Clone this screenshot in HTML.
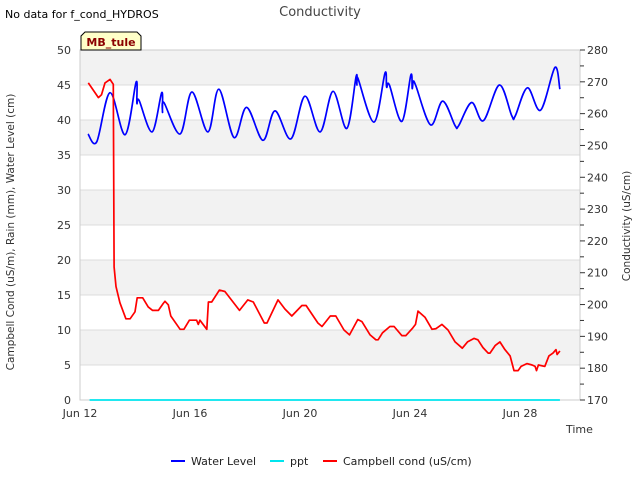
<!DOCTYPE html>
<html><head><meta charset="utf-8"><style>
body{margin:0;background:#fff;font-family:"Liberation Sans","DejaVu Sans",sans-serif;}
svg text{font-family:"DejaVu Sans","Liberation Sans",sans-serif;}
</style></head><body>
<svg id="c" width="640" height="480" xmlns="http://www.w3.org/2000/svg">
<text x="5" y="18" font-size="11" fill="#000">No data for f_cond_HYDROS</text>
<text x="320" y="16" font-size="13" fill="#444" text-anchor="middle">Conductivity</text>
<g id="bands"></g>
<g id="grid"></g>
<g id="axes"></g>
<g id="series"></g>
<g>
<path d="M81,50 L81,36 L85,32 L137,32 L141,36 L141,50 Z" fill="#ffffc8" stroke="#000" stroke-width="1"/>
<text x="111" y="46" font-size="11" font-weight="bold" fill="#8b0000" text-anchor="middle">MB_tule</text>
</g>
<text x="14" y="232" font-size="10.5" fill="#333" text-anchor="middle" transform="rotate(-90 14 232)">Campbell Cond (uS/m), Rain (mm), Water Level (cm)</text>
<text x="630" y="226" font-size="10.5" fill="#333" text-anchor="middle" transform="rotate(-90 630 226)">Conductivity (uS/cm)</text>
<text x="566" y="433" font-size="11" fill="#333">Time</text>
<g>
<g><line x1="171" y1="461" x2="185" y2="461" stroke="#0000ff" stroke-width="2"/><text x="191" y="465" font-size="11" fill="#222">Water Level</text></g>
<g><line x1="270" y1="461" x2="284" y2="461" stroke="#00e5ee" stroke-width="2"/><text x="290" y="465" font-size="11" fill="#222">ppt</text></g>
<g><line x1="323" y1="461" x2="337" y2="461" stroke="#ff0000" stroke-width="2"/><text x="343" y="465" font-size="11" fill="#222">Campbell cond (uS/cm)</text></g>
</g>
</svg>
<script>
const xTickLabels=["Jun 12","Jun 16","Jun 20","Jun 24","Jun 28"];
const xTickDays=[0,4,8,12,16];
const leftTicks=[0,5,10,15,20,25,30,35,40,45,50];
const rightTicks=[170,180,190,200,210,220,230,240,250,260,270,280];
const waterDays=[0.29,0.61,1.09,1.64,2.04,2.07,2.15,2.62,2.97,3.0,3.05,3.64,4.07,4.65,5.05,5.6,6.06,6.65,7.09,7.67,8.18,8.73,9.2,9.7,10.04,10.07,10.1,10.69,11.09,11.15,11.25,11.7,12.03,12.08,12.12,12.22,12.75,13.19,13.64,13.77,14.24,14.67,15.25,15.7,15.83,16.27,16.75,17.27,17.45];
const waterVals=[38.0,36.9,43.9,37.9,45.4,42.4,42.8,38.3,43.9,41.1,42.5,38.0,44.0,38.3,44.4,37.5,41.8,37.1,41.3,37.3,43.4,38.3,44.1,38.8,46.2,45.0,46.0,39.7,46.7,44.7,45.0,39.8,46.4,44.5,45.5,44.8,39.3,42.7,39.2,39.2,42.5,39.9,45.0,40.6,40.6,44.6,41.4,47.5,44.4];
const condDays=[0.3,0.67,0.78,0.91,1.09,1.21,1.24,1.31,1.45,1.67,1.82,2.0,2.08,2.28,2.48,2.64,2.85,3.03,3.09,3.21,3.3,3.64,3.78,3.98,4.24,4.3,4.36,4.61,4.67,4.79,5.07,5.27,5.8,6.1,6.3,6.7,6.8,7.2,7.45,7.7,8.07,8.22,8.65,8.8,9.1,9.3,9.6,9.8,10.1,10.25,10.55,10.76,10.84,11.0,11.27,11.42,11.7,11.85,12.1,12.2,12.29,12.55,12.8,12.95,13.16,13.38,13.64,13.9,14.09,14.33,14.47,14.65,14.84,14.91,15.1,15.27,15.45,15.64,15.78,15.93,16.04,16.25,16.44,16.55,16.6,16.67,16.9,17.05,17.2,17.31,17.35,17.45];
const condVals=[45.3,43.2,43.6,45.3,45.8,45.1,19.0,16.2,13.9,11.6,11.6,12.6,14.6,14.6,13.3,12.8,12.8,13.8,14.1,13.6,12.0,10.1,10.1,11.4,11.4,10.8,11.4,10.1,14.0,14.0,15.7,15.5,12.8,14.3,14.0,11.0,11.0,14.3,13.0,12.0,13.5,13.5,11.0,10.5,12.0,12.0,10.0,9.3,11.5,11.2,9.3,8.6,8.6,9.6,10.5,10.5,9.2,9.2,10.3,10.8,12.7,11.8,10.1,10.2,10.8,10.0,8.3,7.4,8.3,8.8,8.6,7.5,6.7,6.7,7.8,8.3,7.2,6.3,4.2,4.2,4.8,5.2,5.0,4.8,4.2,5.0,4.8,6.3,6.7,7.2,6.5,7.0];
const pptDays=[0.35,17.45];
const pptVals=[0,0];
const NS="http://www.w3.org/2000/svg";
const X0=80,X1=580,Y0=400,Y1=50;
const xs=d=>X0+d*27.5;
const yl=v=>Y0-(v/50)*(Y0-Y1);
const yr=v=>Y0-((v-170)/110)*(Y0-Y1);
function mk(tag,attrs,parent){const e=document.createElementNS(NS,tag);for(const k in attrs)e.setAttribute(k,attrs[k]);document.getElementById(parent).appendChild(e);return e;}
for(let i=0;i<leftTicks.length-1;i++){
  const a=leftTicks[i],b=leftTicks[i+1];
  const r=mk('rect',{x:X0,y:yl(b),width:X1-X0,height:yl(a)-yl(b),fill:(i%2===1)?'#f2f2f2':'#ffffff'},'bands');
  
  
}
leftTicks.forEach(v=>{
  const l=mk('line',{x1:X0,x2:X1,y1:yl(v),y2:yl(v),stroke:'#dcdcdc','stroke-width':1},'grid');
  
  
  const t=mk('text',{x:71,y:yl(v)+4,'font-size':11,fill:'#333','text-anchor':'end'},'axes');
  t.textContent=v;
  
  
});
mk('rect',{x:X0,y:Y1,width:X1-X0,height:Y0-Y1,fill:'none',stroke:'#cccccc'},'axes');
rightTicks.forEach(v=>{
  const l=mk('line',{x1:X1,x2:X1+5,y1:yr(v),y2:yr(v),stroke:'#333'},'axes');
  
  
  const t=mk('text',{x:587,y:yr(v)+4,'font-size':11,fill:'#333'},'axes');
  t.textContent=v;
  
  
  if(v<280){const m=mk('line',{x1:X1,x2:X1+4,y1:yr(v+5),y2:yr(v+5),stroke:'#333'},'axes');
  
  }
});
xTickDays.forEach((d,i)=>{
  const t=mk('text',{x:xs(d),y:417,'font-size':11,fill:'#333','text-anchor':'middle'},'axes');
  t.textContent=xTickLabels[i];
  
  
});
function line(days,vals,color,name,smooth){
  const P=days.map((d,i)=>[xs(d),yl(vals[i])]);
  let dstr='M'+P[0][0].toFixed(1)+','+P[0][1].toFixed(1);
  for(let i=0;i<P.length-1;i++){
    if(!smooth){dstr+=' L'+P[i+1][0].toFixed(1)+','+P[i+1][1].toFixed(1);continue;}
    const p0=P[Math.max(0,i-1)],p1=P[i],p2=P[i+1],p3=P[Math.min(P.length-1,i+2)];
    const c1=[p1[0]+(p2[0]-p0[0])/6,p1[1]+(p2[1]-p0[1])/6];
    const c2=[p2[0]-(p3[0]-p1[0])/6,p2[1]-(p3[1]-p1[1])/6];
    dstr+=' C'+c1[0].toFixed(1)+','+c1[1].toFixed(1)+' '+c2[0].toFixed(1)+','+c2[1].toFixed(1)+' '+p2[0].toFixed(1)+','+p2[1].toFixed(1);
  }
  const p=mk('path',{d:dstr,fill:'none',stroke:color,'stroke-width':1.7,'stroke-linejoin':'round'},'series');
  
  
}
line(pptDays,pptVals,'#00e5ee','ppt-line',false);
line(waterDays,waterVals,'#0000ff','water-level-line',true);
line(condDays,condVals,'#ff0000','campbell-cond-line',false);
</script>
</body></html>
